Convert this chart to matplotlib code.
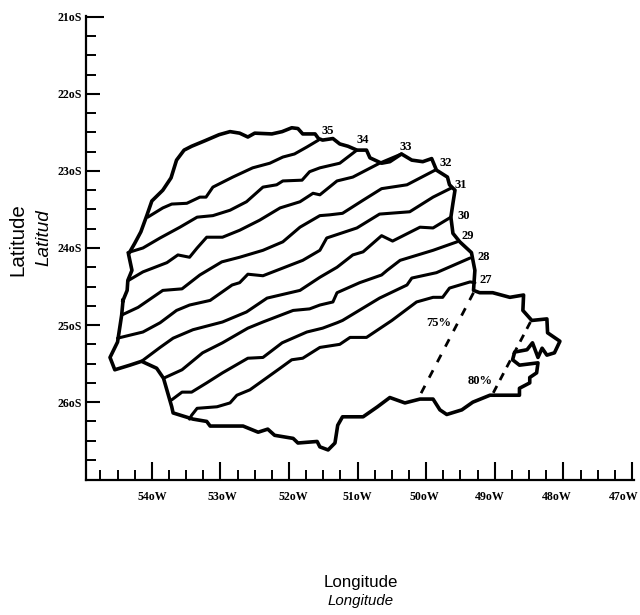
import matplotlib
matplotlib.use("Agg")
import matplotlib.pyplot as plt
from matplotlib.transforms import ScaledTranslation

# %% data, degrees west / degrees south
border_lon = [54.42, 54.36, 54.35, 54.29, 54.34, 54.25, 54.16, 54.07, 54.00, 53.84, 53.72, 53.64, 53.53, 53.42,
              53.23, 53.02, 52.86, 52.72, 52.60, 52.50, 52.25, 52.10, 51.96, 51.87, 51.80, 51.62, 51.57, 51.51,
              51.36, 51.26, 51.14, 51.01, 50.87, 50.82, 50.65, 50.53, 50.36, 50.21, 50.05, 49.92, 49.85, 49.69,
              49.66, 49.58, 49.61, 49.64, 49.61, 49.51, 49.34, 49.29, 49.31, 49.22, 49.03, 48.78, 48.58, 48.59,
              48.46, 48.24, 48.23, 48.05, 48.13, 48.24, 48.31, 48.37, 48.45, 48.53, 48.71, 48.74, 48.64, 48.37,
              48.39, 48.49, 48.49, 48.64, 48.64, 48.78, 49.07, 49.32, 49.48, 49.70, 49.80, 49.90, 50.09, 50.31,
              50.53, 50.71, 50.92, 51.11, 51.22, 51.29, 51.33, 51.43, 51.55, 51.59, 51.87, 51.94, 52.21, 52.31,
              52.45, 52.67, 52.91, 53.15, 53.20, 53.40, 53.69, 53.71, 53.83, 53.93, 54.15, 54.32, 54.54, 54.61,
              54.50, 54.44, 54.42]
border_lat = [24.68, 24.55, 24.42, 24.29, 24.08, 23.94, 23.79, 23.57, 23.39, 23.25, 23.09, 22.86, 22.73, 22.68,
              22.61, 22.53, 22.49, 22.51, 22.56, 22.51, 22.52, 22.49, 22.44, 22.45, 22.52, 22.52, 22.58, 22.60,
              22.58, 22.65, 22.68, 22.73, 22.73, 22.83, 22.90, 22.88, 22.78, 22.86, 22.88, 22.84, 22.99, 23.08,
              23.18, 23.25, 23.42, 23.60, 23.81, 23.92, 24.06, 24.29, 24.55, 24.58, 24.58, 24.64, 24.61, 24.81,
              24.94, 24.92, 25.10, 25.21, 25.36, 25.39, 25.30, 25.42, 25.23, 25.32, 25.35, 25.45, 25.52, 25.49,
              25.62, 25.68, 25.75, 25.82, 25.91, 25.91, 25.91, 26.00, 26.10, 26.16, 26.10, 25.96, 25.96, 26.01,
              25.94, 26.06, 26.19, 26.19, 26.19, 26.30, 26.53, 26.62, 26.58, 26.51, 26.53, 26.47, 26.43, 26.35,
              26.39, 26.31, 26.31, 26.31, 26.25, 26.22, 26.14, 26.06, 25.69, 25.56, 25.47, 25.52, 25.58, 25.42,
              25.22, 24.87, 24.68]

iso35_lon = [54.06, 53.84, 53.71, 53.49, 53.30, 53.21, 53.11, 52.82, 52.53, 52.28, 52.09, 51.92, 51.74, 51.57]
iso35_lat = [23.60, 23.48, 23.43, 23.42, 23.34, 23.34, 23.21, 23.08, 22.96, 22.90, 22.82, 22.78, 22.69, 22.60]
iso34_lon = [54.35, 54.13, 53.88, 53.59, 53.34, 53.11, 52.86, 52.62, 52.38, 52.18, 52.09, 51.81, 51.70, 51.55, 51.26, 51.01]
iso34_lat = [24.06, 24.00, 23.87, 23.73, 23.60, 23.58, 23.51, 23.40, 23.21, 23.18, 23.13, 23.12, 23.01, 22.96, 22.90, 22.73]
iso33_lon = [54.34, 54.13, 53.78, 53.62, 53.45, 53.34, 53.20, 52.97, 52.72, 52.43, 52.13, 51.84, 51.65, 51.55, 51.30, 51.07, 50.68, 50.36]
iso33_lat = [24.42, 24.31, 24.19, 24.09, 24.12, 24.00, 23.86, 23.86, 23.77, 23.64, 23.48, 23.40, 23.29, 23.31, 23.13, 23.08, 22.90, 22.78]
iso32_lon = [54.44, 54.20, 53.84, 53.56, 53.30, 52.98, 52.72, 52.38, 52.09, 51.84, 51.55, 51.41, 51.22, 50.92, 50.65, 50.28, 49.87]
iso32_lat = [24.87, 24.77, 24.55, 24.53, 24.35, 24.18, 24.12, 24.03, 23.92, 23.73, 23.58, 23.57, 23.55, 23.38, 23.23, 23.18, 22.99]
iso31_lon = [54.50, 54.13, 53.88, 53.64, 53.45, 53.15, 52.83, 52.72, 52.60, 52.38, 52.09, 51.80, 51.55, 51.45, 51.01, 50.68, 50.24, 49.90, 49.63]
iso31_lat = [25.17, 25.09, 24.97, 24.81, 24.74, 24.68, 24.48, 24.45, 24.34, 24.36, 24.26, 24.16, 24.03, 23.87, 23.74, 23.56, 23.53, 23.34, 23.22]
iso30_lon = [54.15, 53.88, 53.69, 53.40, 52.97, 52.62, 52.32, 51.84, 51.55, 51.30, 51.07, 50.92, 50.65, 50.49, 50.09, 49.90, 49.64]
iso30_lat = [25.47, 25.29, 25.17, 25.06, 24.96, 24.83, 24.65, 24.55, 24.38, 24.25, 24.09, 24.05, 23.84, 23.91, 23.73, 23.74, 23.60]
iso29_lon = [53.83, 53.56, 53.26, 52.97, 52.60, 52.38, 51.94, 51.70, 51.55, 51.36, 51.30, 50.97, 50.65, 50.57, 50.38, 49.90, 49.55]
iso29_lat = [25.69, 25.58, 25.36, 25.23, 25.04, 24.96, 24.81, 24.79, 24.74, 24.70, 24.58, 24.45, 24.35, 24.29, 24.16, 24.03, 23.92]
iso28_lon = [53.71, 53.56, 53.42, 53.20, 52.97, 52.60, 52.38, 52.10, 51.74, 51.51, 51.30, 51.22, 50.68, 50.28, 50.21, 49.85, 49.36]
iso28_lat = [25.97, 25.87, 25.87, 25.75, 25.62, 25.43, 25.42, 25.23, 25.09, 25.04, 24.97, 24.94, 24.65, 24.48, 24.39, 24.32, 24.13]
iso27_lon = [53.45, 53.42, 53.34, 53.05, 52.86, 52.76, 52.57, 52.35, 52.13, 51.96, 51.80, 51.55, 51.26, 51.11, 50.87, 50.50, 50.14, 49.90, 49.76, 49.66, 49.36, 49.29]
iso27_lat = [26.22, 26.17, 26.08, 26.06, 26.01, 25.91, 25.84, 25.70, 25.56, 25.45, 25.43, 25.29, 25.25, 25.16, 25.16, 24.94, 24.70, 24.64, 24.64, 24.52, 24.44, 24.45]

hum75_lon = [49.31, 50.09]
hum75_lat = [24.58, 25.91]
hum80_lon = [48.48, 49.04]
hum80_lat = [24.96, 25.91]

iso_labels = ['35', '34', '33', '32', '31', '30', '29', '28', '27', '75%', '80%']
label_lon = [51.43, 50.92, 50.30, 49.71, 49.50, 49.45, 49.39, 49.16, 49.13, 49.82, 49.22]
label_lat = [22.48, 22.60, 22.69, 22.90, 23.18, 23.58, 23.84, 24.12, 24.42, 24.97, 25.73]

lon_ticks = [54, 53, 52, 51, 50, 49, 48, 47]
lat_ticks = [21, 22, 23, 24, 25, 26]
lon_ticklabels = ['54oW', '53oW', '52oW', '51oW', '50oW', '49oW', '48oW', '47oW']
lat_ticklabels = ['21oS', '22oS', '23oS', '24oS', '25oS', '26oS']
lon_minor = [54.75, 54.5, 54.25, 53.75, 53.5, 53.25, 52.75, 52.5, 52.25, 51.75, 51.5, 51.25,
             50.75, 50.5, 50.25, 49.75, 49.5, 49.25, 48.75, 48.5, 48.25, 47.75, 47.5, 47.25]
lat_minor = [21.25, 21.5, 21.75, 22.25, 22.5, 22.75, 23.25, 23.5, 23.75, 24.25, 24.5, 24.75,
             25.25, 25.5, 25.75, 26.25, 26.5, 26.75]

isolines = [(iso35_lon, iso35_lat), (iso34_lon, iso34_lat), (iso33_lon, iso33_lat),
            (iso32_lon, iso32_lat), (iso31_lon, iso31_lat), (iso30_lon, iso30_lat),
            (iso29_lon, iso29_lat), (iso28_lon, iso28_lat), (iso27_lon, iso27_lat)]

# %% figure
fig = plt.figure(figsize=(6.4, 6.15), dpi=100)
ax = fig.add_axes([86/640, 135/615, 548/640, 464/615])

ax.plot(border_lon, border_lat, color='black', lw=2.6, solid_joinstyle='round')
for lon, lat in isolines:
    ax.plot(lon, lat, color='black', lw=2.2, solid_joinstyle='round', solid_capstyle='round')
ax.plot(hum75_lon, hum75_lat, color='black', lw=2.0, dashes=(3.0, 3.3))
ax.plot(hum80_lon, hum80_lat, color='black', lw=2.0, dashes=(2.8, 2.4))

for txt, lon, lat in zip(iso_labels, label_lon, label_lat):
    ax.text(lon, lat, txt, family='Liberation Serif', weight='bold', fontsize=9,
            ha='center', va='center')

ax.set_xlim(54.96, 46.97)
ax.set_ylim(27.01, 20.99)
ax.spines['top'].set_visible(False)
ax.spines['right'].set_visible(False)
ax.spines['left'].set_linewidth(1.6)
ax.spines['bottom'].set_linewidth(1.6)

ax.set_xticks(lon_ticks)
ax.set_xticklabels(lon_ticklabels, family='Liberation Serif', weight='bold', fontsize=8.6)
ax.set_yticks(lat_ticks)
ax.set_yticklabels(lat_ticklabels, family='Liberation Serif', weight='bold', fontsize=8.6)
ax.set_xticks(lon_minor, minor=True)
ax.set_yticks(lat_minor, minor=True)
ax.tick_params(axis='x', which='major', direction='in', length=13, width=1.5, pad=8)
ax.tick_params(axis='y', which='major', direction='in', length=10, width=1.5, pad=3)
ax.tick_params(axis='x', which='minor', direction='in', length=7, width=1.4)
ax.tick_params(axis='y', which='minor', direction='in', length=7, width=1.4)
ax.yaxis.get_major_ticks()[0].tick1line.set_markersize(13)

# tick labels sit a bit off their ticks in the original, the last one would be cut
label_shift_px = [0, 2, 4, 0, -2, -5, -7, -8]
for lab, shift in zip(ax.get_xticklabels(), label_shift_px):
    lab.set_transform(lab.get_transform() + ScaledTranslation(shift/100, 0, fig.dpi_scale_trans))

fig.text(18/640, 1-240/615, 'Latitude', family='Liberation Sans', fontsize=14.8,
         rotation=90, ha='center', va='center')
fig.text(44/640, 1-238/615, 'Latitud', family='Liberation Sans', style='italic', fontsize=13.6,
         rotation=90, ha='center', va='center')
fig.text(361/640, 1-582/615, 'Longitude', family='Liberation Sans', fontsize=12.2,
         ha='center', va='center')
fig.text(361/640, 1-601/615, 'Longitude', family='Liberation Sans', style='italic', fontsize=10.8,
         ha='center', va='center')

fig.savefig('out.png', dpi=100)
